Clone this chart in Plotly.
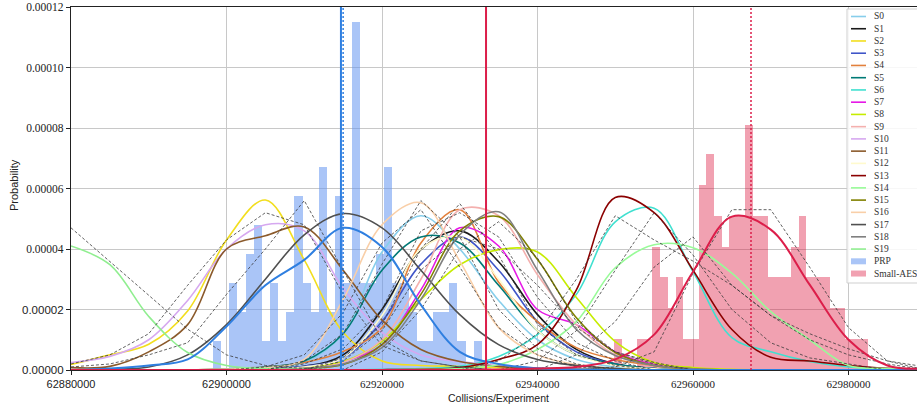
import plotly.graph_objects as go

# ---------------- data ----------------
grid_x = [62880000, 62885000, 62890000, 62895000, 62900000, 62905000, 62910000, 62915000,
          62920000, 62925000, 62930000, 62935000, 62940000, 62945000, 62950000, 62955000,
          62960000, 62965000, 62970000, 62975000, 62980000, 62985000, 62990000]

# density curves, in units of 1e-5
s0 = [0,0,0,0,0,0.05,0.25,1.2,3.9,5.1,4.0,2.3,1.0,0.35,0.1,0.03,0,0,0,0,0,0,0]
s1 = [0,0,0,0,0,0.03,0.12,0.5,2.0,3.98,4.6,3.58,1.83,0.68,0.2,0.05,0,0,0,0,0,0,0]
s2 = [0.18,0.5,0.85,1.95,4.3,5.62,3.64,1.25,0.3,0.15,0.12,0.08,0.05,0.03,0.02,0.01,0,0,0,0,0,0,0]
s3 = [0,0,0,0,0,0.03,0.12,0.4,1.6,3.5,4.4,3.3,1.6,0.6,0.2,0.05,0,0,0,0,0,0,0]
s4 = [0,0,0,0,0.03,0.1,0.25,0.61,1.4,4.2,5.3,2.9,1.6,0.74,0.35,0.15,0.05,0,0,0,0,0,0]
s5 = [0,0,0,0,0.03,0.1,0.3,1.2,3.3,4.4,4.2,2.8,1.3,0.5,0.2,0.05,0,0,0,0,0,0,0]
s6 = [0,0,0,0,0,0,0,0,0.02,0.05,0.12,0.45,1.17,2.5,4.9,5.35,3.25,1.07,0.6,0.28,0.1,0.03,0]
s7 = [0,0,0,0,0,0.01,0.05,0.28,0.84,2.65,4.7,4.1,2.0,1.5,0.6,0.18,0.05,0,0,0,0,0,0]
s8 = [0,0,0,0,0,0.02,0.08,0.28,0.94,2.33,3.48,3.98,3.9,2.4,0.94,0.25,0.08,0.02,0,0,0,0,0]
s9 = [0,0,0,0,0,0.01,0.05,0.25,1.0,3.0,5.3,5.1,3.15,1.5,0.5,0.15,0.03,0,0,0,0,0,0]
s10 = [0.25,0.45,1.0,2.3,4.0,4.8,4.6,2.7,1.24,0.5,0.28,0.15,0.06,0.02,0,0,0,0,0,0,0,0,0]
s11 = [0.08,0.12,0.6,1.5,4.0,4.44,4.73,3.3,1.65,0.68,0.28,0.12,0.05,0.02,0,0,0,0,0,0,0,0,0]
s12 = [0,0,0,0,0,0.03,0.1,0.4,1.8,4.0,4.4,3.0,1.3,0.5,0.15,0.04,0,0,0,0,0,0,0]
s13 = [0,0,0,0,0,0,0,0,0.01,0.03,0.08,0.35,0.84,2.65,5.7,5.2,3.3,1.34,0.42,0.3,0.15,0.06,0.02]
s14 = [0,0,0,0,0,0,0,0,0,0.02,0.05,0.18,0.68,1.6,3.38,4.14,4.04,3.2,1.93,1.0,0.15,0.05,0.01]
s15 = [0,0,0,0,0,0.01,0.05,0.18,0.84,2.5,4.6,5.07,3.65,1.73,0.58,0.15,0.04,0,0,0,0,0,0]
s16 = [0,0,0,0,0.03,0.08,0.35,2.33,4.8,5.53,3.6,1.4,0.5,0.18,0.05,0,0,0,0,0,0,0,0]
s17 = [0,0.02,0.1,0.5,1.5,3.0,4.47,5.17,4.7,3.3,1.83,0.84,0.35,0.15,0.05,0,0,0,0,0,0,0,0]
s18 = [0,0,0,0,0,0.02,0.06,0.2,0.74,2.33,4.47,5.23,3.3,1.34,0.48,0.15,0.04,0,0,0,0,0,0]
s19 = [4.1,3.48,1.77,0.58,0.15,0.05,0.02,0,0,0,0,0,0,0,0,0,0,0,0,0,0,0,0]

prp_kde = [0,0.05,0.15,0.35,1.44,2.8,3.64,4.7,4.07,2.15,0.6,0.2,0.06,0.02,0,0,0,0,0,0,0,0,0]
aes_kde = [0,0,0,0,0,0,0,0,0,0,0,0.02,0.05,0.1,0.35,1.17,3.25,5.07,4.64,2.82,1.0,0.15,0.05]

# coarse dashed density polygons, units of 1e-5
d1 = [4.7,3.6,2.47,1.35,0.5,0.15,0.05,0,0,0,0,0,0,0,0,0,0,0,0,0,0,0,0]
d2 = [0.1,0.2,0.5,0.9,2.5,4.0,5.6,3.3,1.0,0.3,0.1,0,0,0,0,0,0,0,0,0,0,0,0]
d3 = [0.2,0.5,1.2,2.8,4.3,5.2,4.8,2.5,0.8,0.3,0.1,0,0,0,0,0,0,0,0,0,0,0,0]
d4 = [0,0,0,0,0,0,0.3,1.2,3.5,5.6,4.4,2.0,0.7,0.2,0,0,0,0,0,0,0,0,0]
d5 = [0,0,0,0,0,0,0,0.4,1.5,4.0,5.5,3.8,1.5,0.5,0.15,0,0,0,0,0,0,0,0]
d6 = [0,0,0,0,0,0,0.2,0.7,2.0,4.6,5.2,4.4,2.4,0.9,0.3,0,0,0,0,0,0,0,0]
d7 = [0,0,0,0,0,0,0,0,0.6,2.0,4.0,4.9,3.7,1.6,0.6,0.2,0,0,0,0,0,0,0]
d8 = [0,0,0,0,0,0.1,0.5,1.9,4.2,5.3,3.4,1.4,0.5,0.1,0,0,0,0,0,0,0,0,0]
d9 = [0,0,0,0,0,0,0,0.3,1.3,3.3,4.4,4.0,2.8,1.4,0.6,0.25,0,0,0,0,0,0,0]
d10 = [0,0,0,0,0,0,0,0,0,0,0,0.3,1.2,3.0,5.1,4.3,3.6,2.8,1.8,1.0,0.5,0.2,0]
d11 = [0,0,0,0,0,0,0,0,0,0,0,0,0.3,1.3,3.3,5.2,3.8,2.0,0.9,0.4,0.2,0,0]
d12 = [0,0,0,0,0,0,0,0,0,0,0,0,0,0.5,1.6,3.4,4.4,2.8,1.8,1.2,0.7,0.3,0]
d13 = [0,0,0,0,0,0,0,0,0,0,0,0,0,0,0.1,0.6,3.2,5.3,5.3,3.4,1.4,0.3,0.1]

# histograms (probability density per bin)
prp_bin_start = 62898264
prp_bin_width = 1048
prp_density = [0.96e-5, 0, 2.88e-5, 1.92e-5, 3.84e-5, 4.80e-5, 0.96e-5, 2.88e-5, 0.96e-5, 1.92e-5,
               5.76e-5, 2.88e-5, 1.92e-5, 6.72e-5, 1.92e-5, 5.76e-5, 2.88e-5, 11.5e-5, 2.88e-5, 2.88e-5,
               3.84e-5, 6.72e-5, 2.88e-5, 2.88e-5, 1.92e-5, 0.96e-5, 0.96e-5, 1.92e-5, 1.92e-5, 2.88e-5,
               0.96e-5, 0, 0.96e-5]
aes_bin_start = 62949839
aes_bin_width = 990
aes_density = [1.02e-5, 0, 0, 1.02e-5, 1.02e-5, 4.08e-5, 3.06e-5, 2.04e-5, 3.06e-5, 1.02e-5,
               1.02e-5, 6.12e-5, 7.14e-5, 5.10e-5, 4.08e-5, 5.10e-5, 5.10e-5, 8.10e-5, 5.10e-5, 5.10e-5,
               3.06e-5, 3.06e-5, 3.06e-5, 4.08e-5, 5.10e-5, 3.06e-5, 3.06e-5, 3.06e-5, 2.04e-5, 2.04e-5,
               1.02e-5, 1.02e-5, 1.02e-5]

prp_line_solid = 62914720
prp_line_dotted = 62915000
aes_line_solid = 62933380
aes_line_dotted = 62967460

series_names = ["S%d" % i for i in range(20)]
series_vals = [s0, s1, s2, s3, s4, s5, s6, s7, s8, s9, s10, s11, s12, s13, s14, s15, s16, s17, s18, s19]
series_colors = ["#87CEEB", "#1a1a1a", "#f2de1e", "#3f55c8", "#e2803c", "#007a76", "#40E0D0",
                 "#e619e6", "#c6ec00", "#f4b0ae", "#d6a8f0", "#8B5A2B", "#FFFACD", "#8B0000",
                 "#98FB98", "#808000", "#f9cfa8", "#505050", "#808080", "#90EE90"]
dashed_vals = [d1, d2, d3, d4, d5, d6, d7, d8, d9, d10, d11, d12, d13]

PRP_FILL = "rgba(100,150,240,0.55)"
AES_FILL = "rgba(220,20,60,0.4)"
PRP_LINE = "#2f7fe0"
AES_LINE = "#dc1e4a"

SCALE = 1e-5

fig = go.Figure()

fig.add_trace(go.Bar(x=[prp_bin_start + i * prp_bin_width for i in range(len(prp_density))],
                     y=prp_density, width=prp_bin_width, offset=0,
                     marker=dict(color=PRP_FILL, line=dict(width=0)), name="PRP"))
fig.add_trace(go.Bar(x=[aes_bin_start + i * aes_bin_width for i in range(len(aes_density))],
                     y=aes_density, width=aes_bin_width, offset=0,
                     marker=dict(color=AES_FILL, line=dict(width=0)), name="Small-AES"))

for name, vals, col in zip(series_names, series_vals, series_colors):
    fig.add_trace(go.Scatter(x=grid_x, y=[v * SCALE for v in vals], mode="lines", name=name,
                             line=dict(color=col, width=1.6, shape="spline", smoothing=1.0)))

for vals in dashed_vals:
    fig.add_trace(go.Scatter(x=grid_x, y=[v * SCALE for v in vals], mode="lines",
                             line=dict(color="#3a3a3a", width=0.8, dash="3px,2px")))

fig.add_trace(go.Scatter(x=grid_x, y=[v * SCALE for v in prp_kde], mode="lines",
                         line=dict(color=PRP_LINE, width=2, shape="spline", smoothing=1.0)))
fig.add_trace(go.Scatter(x=grid_x, y=[v * SCALE for v in aes_kde], mode="lines",
                         line=dict(color=AES_LINE, width=2, shape="spline", smoothing=1.0)))

YMAX = 0.00012
fig.add_trace(go.Scatter(x=[prp_line_solid, prp_line_solid], y=[0, YMAX], mode="lines",
                         line=dict(color=PRP_LINE, width=2)))
fig.add_trace(go.Scatter(x=[prp_line_dotted, prp_line_dotted], y=[0, YMAX], mode="lines",
                         line=dict(color=PRP_LINE, width=1.5, dash="2px,2px")))
fig.add_trace(go.Scatter(x=[aes_line_solid, aes_line_solid], y=[0, YMAX], mode="lines",
                         line=dict(color=AES_LINE, width=2)))
fig.add_trace(go.Scatter(x=[aes_line_dotted, aes_line_dotted], y=[0, YMAX], mode="lines",
                         line=dict(color=AES_LINE, width=1.5, dash="2px,2px")))

# ---------------- layout ----------------
W, H = 917, 407
L, T, B, R = 71, 7, 37, 0
SERIF = "Liberation Serif"
SANS = "Liberation Sans"

def sans(t):
    return '<span style="font-family:%s">%s</span>' % (SANS, t)

x_ticks = [62880000, 62900000, 62920000, 62940000, 62960000, 62980000]
x_text = [sans("62880000"), sans("62900000"), "62920000", "62940000", "62960000", "62980000"]
y_ticks = [0, 0.00002, 0.00004, 0.00006, 0.00008, 0.00010, 0.00012]
y_text = [sans("0.00000"), sans("0.00002"), "0.00004", "0.00006", "0.00008", "0.00010", "0.00012"]

fig.update_layout(
    width=W, height=H, margin=dict(l=L, r=R, t=T, b=B, pad=0, autoexpand=False),
    plot_bgcolor="white", paper_bgcolor="white", showlegend=False,
    barmode="overlay", bargap=0,
    font=dict(family=SERIF, size=11, color="#222"),
    xaxis=dict(range=[62880000, 62880000 + (W - L - R) / 0.007775], tickvals=x_ticks, ticktext=x_text,
               automargin=False,
               showgrid=True, gridcolor="#c8c8c8", gridwidth=1, zeroline=False,
               showline=True, linecolor="#222", linewidth=1, mirror=True,
               ticks="outside", ticklen=4, tickcolor="#222", tickfont=dict(size=11)),
    yaxis=dict(range=[0, YMAX], tickvals=y_ticks, ticktext=y_text, automargin=False,
               showgrid=True, gridcolor="#c8c8c8", gridwidth=1, zeroline=False,
               showline=True, linecolor="#222", linewidth=1.2,
               ticks="outside", ticklen=4, tickcolor="#222", tickfont=dict(size=11.5)),
)

PW = W - L - R
PH = H - T - B

def px_x(px):
    return (px - L) / PW

def px_y(py):
    return 1 - (py - T) / PH

annotations = [
    dict(text="Probability", x=px_x(14), y=px_y(185), xref="paper", yref="paper",
         xanchor="center", yanchor="middle",
         showarrow=False, textangle=-90, font=dict(family=SANS, size=11, color="#222")),
    dict(text="Collisions/Experiment", x=px_x(498), y=px_y(398), xref="paper", yref="paper",
         xanchor="center", yanchor="middle",
         showarrow=False, font=dict(family=SANS, size=10.5, color="#222")),
]

shapes = [dict(type="rect", xref="paper", yref="paper", x0=px_x(847), x1=px_x(930),
               y0=px_y(283), y1=px_y(9), fillcolor="rgba(255,255,255,0.85)",
               line=dict(color="#cfcfcf", width=1), layer="above")]

legend_labels = series_names + ["PRP", "Small-AES"]
row0, drow = 16.5, 12.24
for i, lab in enumerate(legend_labels):
    yy = row0 + drow * i
    if i < 20:
        shapes.append(dict(type="line", xref="paper", yref="paper", x0=px_x(851), x1=px_x(866),
                           y0=px_y(yy), y1=px_y(yy), line=dict(color=series_colors[i], width=1.6),
                           layer="above"))
    else:
        fill = PRP_FILL if lab == "PRP" else AES_FILL
        shapes.append(dict(type="rect", xref="paper", yref="paper", x0=px_x(851), x1=px_x(866),
                           y0=px_y(yy + 3), y1=px_y(yy - 3), fillcolor=fill,
                           line=dict(width=0), layer="above"))
    annotations.append(dict(text=lab, x=px_x(872), y=px_y(yy), xref="paper", yref="paper",
                            xanchor="left", yanchor="middle", showarrow=False,
                            font=dict(family=SERIF, size=9.5, color="#333")))

fig.update_layout(shapes=shapes, annotations=annotations)

fig.write_html("out.html", config={"displayModeBar": False},
               post_script="document.body.style.margin='0';document.body.style.overflow='hidden';")
